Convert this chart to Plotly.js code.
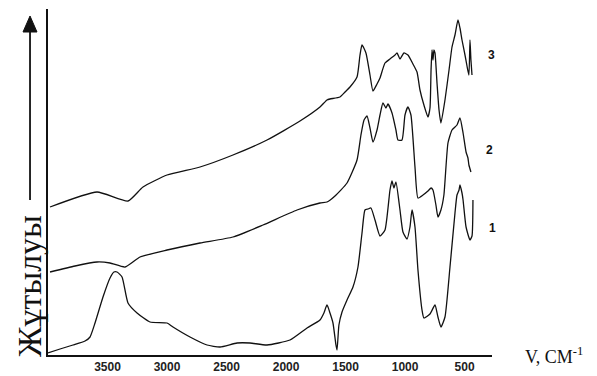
<!DOCTYPE html>
<html>
<head>
<meta charset="utf-8">
<script src="https://cdn.plot.ly/plotly-3.0.1.min.js"></script>
<style>html,body{margin:0;padding:0;background:#fff;}#chart{width:597px;height:376px;}</style>
</head>
<body>
<div id="chart"></div>
<script>
// Curve 3 (top)
const wn3 = [3983,3588,3328,3202,3000,2723,2446,2160,1883,1715,1656,1631,1547,1505,1463,1404,1379,1362,1329,1295,1270,1236,1211,1169,1127,1085,1068,1043,1010,976,934,900,875,842,808,791,782,774,766,758,749,732,715,699,665,631,606,581,556,539,522,497,480,464,455,447,438];
const abs3 = [148,163,154,168,180,188,200,215,234,248,255,256,258,263,268,278,300,310,302,280,264,271,277,292,296,300,302,296,302,300,291,283,265,250,238,247,285,305,295,305,302,272,245,232,255,285,308,320,335,327,315,300,289,280,315,295,280];
// Curve 2 (middle)
const wn2 = [3983,3773,3588,3479,3353,3227,3000,2723,2446,2194,1908,1715,1656,1589,1488,1404,1371,1345,1320,1295,1270,1236,1211,1186,1161,1144,1110,1077,1060,1026,1001,976,951,917,892,850,808,782,766,741,724,699,674,640,606,564,539,513,488,472,464,447];
const abs2 = [83,89,93,92,88,98,105,112,118,130,145,152,153,159,172,195,220,235,239,227,213,225,240,252,247,251,242,225,215,215,240,248,240,188,157,160,164,167,165,150,138,145,160,212,225,230,237,222,203,197,190,183];
// Curve 1 (bottom)
const wn1 = [4000,3899,3790,3689,3647,3605,3538,3479,3446,3420,3378,3328,3252,3143,3000,2950,2807,2664,2555,2412,2303,2160,1967,1824,1715,1682,1656,1631,1606,1581,1572,1556,1530,1488,1438,1396,1362,1337,1312,1287,1253,1211,1169,1127,1110,1094,1077,1043,1018,984,959,942,917,892,858,842,791,749,724,699,665,623,581,564,547,539,522,513,488,455,438,430];
const abs1 = [2,6,10,14,18,32,58,77,83,83,78,52,42,33,32,28,18,10,8,12,12,10,15,27,35,42,50,42,32,10,5,30,43,55,68,88,122,145,146,147,135,119,125,165,174,167,173,145,123,116,128,145,128,85,45,37,41,50,38,28,38,88,142,160,165,170,162,155,128,115,119,155];

const tickVals = [3500,3000,2500,2000,1500,1000,500];
const tickText = ['3500','3000','2500','2000','1500','1000','500'];
const curveLabels = ['3','2','1'];
const labelXp = [0.998,0.995,1.002];
const labelYp = [0.867,0.592,0.367];

const lineStyle = {color:'#111', width:1.3, shape:'spline', smoothing:0.5};
const data = [
  {x:wn3, y:abs3, mode:'lines', line:lineStyle, hoverinfo:'skip'},
  {x:wn2, y:abs2, mode:'lines', line:lineStyle, hoverinfo:'skip'},
  {x:wn1, y:abs1, mode:'lines', line:lineStyle, hoverinfo:'skip'}
];

const annotations = curveLabels.map((t,i)=>({
  x:labelXp[i], y:labelYp[i], xref:'paper', yref:'paper', xanchor:'center', yanchor:'middle',
  text:t, showarrow:false,
  font:{family:'Liberation Sans, Arial, sans-serif', size:12, color:'#111', weight:'bold'}
}));
annotations.push({
  xref:'paper', yref:'paper', x:1.07, y:0, xanchor:'left', yanchor:'middle',
  text:'V, СМ<sup>-1</sup>', showarrow:false,
  font:{family:'Liberation Serif, Times New Roman, serif', size:18, color:'#111'}
});
annotations.push({
  xref:'paper', yref:'paper', x:-0.04, y:0.2, xanchor:'center', yanchor:'middle',
  text:'Жұтылуы', textangle:-90, showarrow:false,
  font:{family:'Liberation Serif, Times New Roman, serif', size:34, color:'#111'}
});

const layout = {
  width:597, height:376,
  margin:{l:48, r:105, t:9, b:21},
  paper_bgcolor:'#fff', plot_bgcolor:'#fff',
  showlegend:false,
  xaxis:{range:[4000,270], tickvals:tickVals, ticktext:tickText, showgrid:false, zeroline:false,
    showline:true, linecolor:'#111', linewidth:1.6, ticks:'', ticklen:0,
    tickfont:{family:'Liberation Sans, Arial, sans-serif', size:12, color:'#222', weight:'bold'}},
  yaxis:{range:[0,346], showticklabels:false, showgrid:false, zeroline:false,
    showline:true, linecolor:'#111', linewidth:1.6, ticks:''},
  annotations:annotations,
  shapes:[
    {type:'line', xref:'paper', yref:'paper', x0:-0.0405, x1:-0.0405, y0:0.448, y1:0.94,
      line:{color:'#111', width:1.8}},
    {type:'path', xref:'paper', yref:'paper',
      path:'M -0.0563 0.9335 L -0.0248 0.9335 L -0.0405 0.9798 Z',
      fillcolor:'#111', line:{color:'#111', width:1}}
  ]
};

Plotly.newPlot('chart', data, layout, {staticPlot:true, displayModeBar:false});
</script>
</body>
</html>
